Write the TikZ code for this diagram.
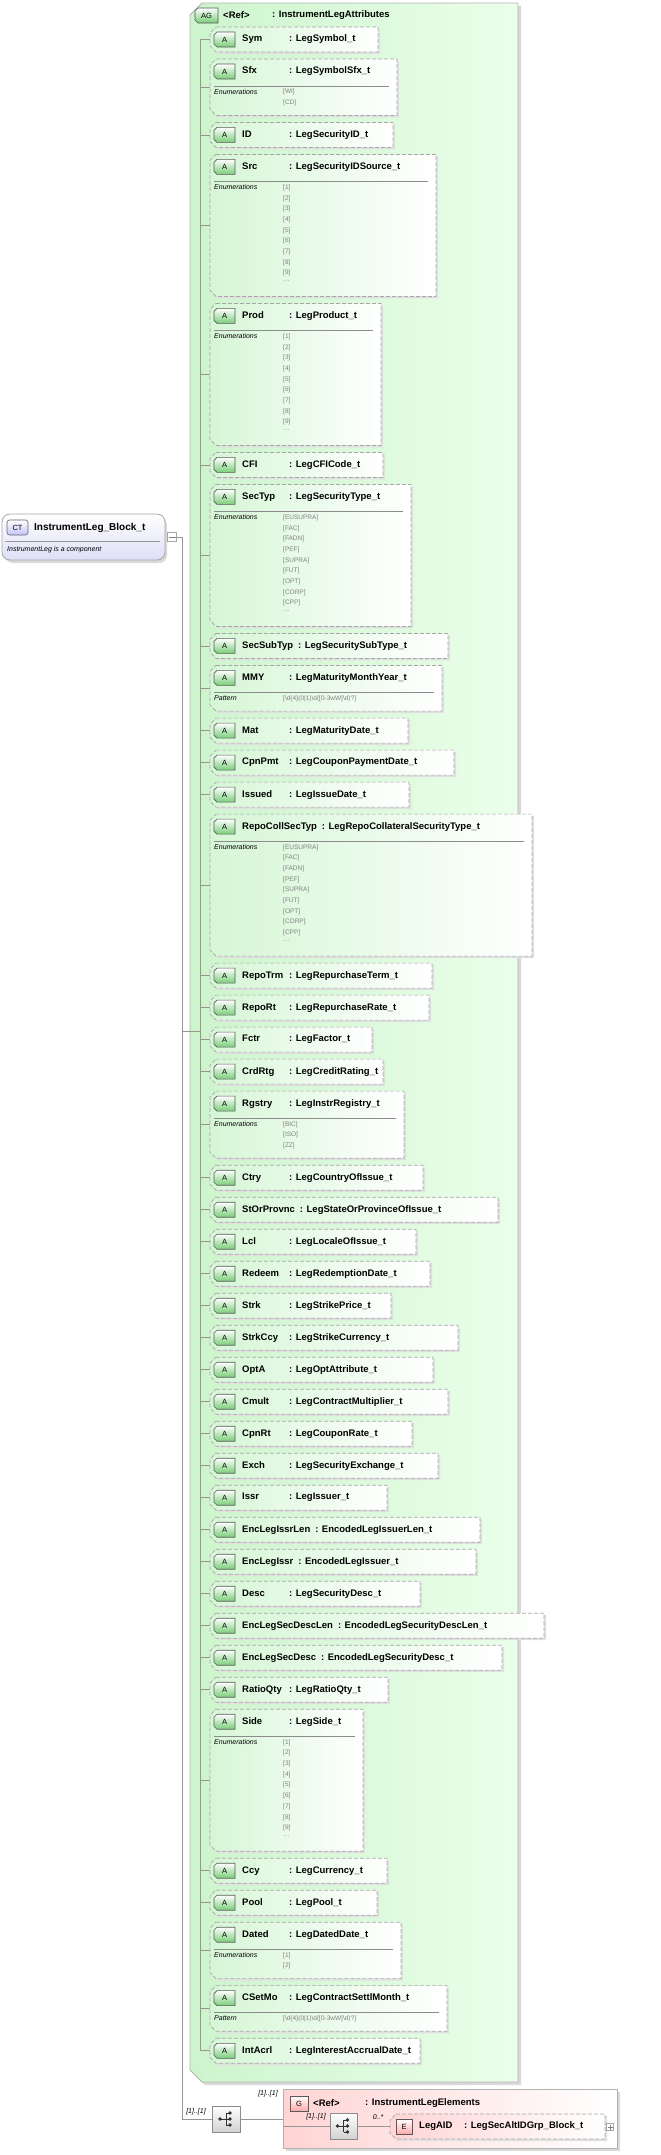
\documentclass[tikz,border=0pt]{standalone}
\usepackage{fontspec}
\setmainfont{Liberation Sans}
\definecolor{attrgreen}{RGB}{214,246,214}
\definecolor{aggreen}{RGB}{205,244,205}
\definecolor{badgetop}{RGB}{235,252,235}
\definecolor{badgebot}{RGB}{120,205,120}
\definecolor{gpink}{RGB}{255,212,212}
\definecolor{ctlav}{RGB}{222,222,248}
\definecolor{linegray}{RGB}{150,150,150}
\tikzset{
  conn/.style={draw=linegray,line width=0.8pt},
  enumv/.style={anchor=north west,inner sep=0pt,text=black!50,font=\fontsize{6.5}{7}\selectfont},
  enuml/.style={anchor=north west,inner sep=0pt,font=\itshape\fontsize{7}{7}\selectfont},
  mult/.style={inner sep=0pt,font=\itshape\fontsize{7}{7}\selectfont},
  hdr/.style={anchor=west,inner sep=0pt,font=\bfseries\fontsize{9.5}{10}\selectfont},
}
\newcommand\cy{27}
\newcommand\namecol[2]{\setbox0\hbox{\bfseries #1}\ifdim\wd0<47pt\hbox to 47pt{\box0\hfil}\else\box0\hspace{5pt}\fi\textbf{: #2}}
\newcommand\boxpath[4]{(#1+6,#2) -- (#3,#2) -- (#3,#4) -- (#1+6,#4) -- (#1,#4-6) -- (#1,#2+6) -- cycle}
\newcommand\abox[5]{%
  \fill[black!12] \boxpath{#1+2}{#2+2}{#3+2}{#4+2};
  \shade[left color=#5,right color=white] \boxpath{#1}{#2}{#3}{#4};
  \draw[black!35,dash pattern=on 4pt off 2pt,line width=0.7pt] \boxpath{#1}{#2}{#3}{#4};}
\newcommand\badge[5]{% x0,y0,x1,text,colour
  \shade[top color=white,bottom color=#5,draw=black!65,line width=0.6pt]
    (#1+3,#2) -- (#3,#2) -- (#3,#2+15) -- (#1+3,#2+15) -- (#1,#2+12) -- (#1,#2+3) -- cycle;
  \node[inner sep=0pt,font=\fontsize{7.5}{8}\selectfont] at ({(#1+#3)/2},#2+7.5) {#4};}
\newcommand\header[3]{%
  \badge{214}{#3+5}{235}{A}{badgebot}
  \node[hdr] at (242,#3+12.5) {\namecol{#1}{#2}};}
\newcommand\attrS[3]{%
  \pgfmathsetmacro\yt{\cy}\pgfmathsetmacro\yb{\cy+25}%
  \abox{210}{\yt}{#3}{\yb}{attrgreen}
  \header{#1}{#2}{\yt}
  \coordinate (#1-in) at (210,\yt+12.5);
  \coordinate (#1-v) at (200,\yt+12.5);
  \draw[conn] (#1-v) -- (#1-in);
  \pgfmathsetmacro\ny{\cy+32}\xdef\cy{\ny}}
\newcommand\attrE[6]{% name,type,right,label,nlines,list macro
  \pgfmathsetmacro\yt{\cy}\pgfmathsetmacro\yb{\cy+35+#5*10.7}%
  \pgfmathsetmacro\ym{(\yt+\yb)/2}%
  \abox{210}{\yt}{#3}{\yb}{attrgreen}
  \header{#1}{#2}{\yt}
  \draw[black!45,line width=0.7pt] (214,\yt+27) -- (#3-8,\yt+27);
  \node[enuml] at (214,\yt+30) {#4};
  \foreach \v [count=\i] in #6 {\node[enumv] at (283,\yt+30+\i*10.7-10.7) {\v};}
  \coordinate (#1-in) at (210,\ym);
  \coordinate (#1-v) at (200,\ym);
  \draw[conn] (#1-v) -- (#1-in);
  \pgfmathsetmacro\ny{\yb+7}\xdef\cy{\ny}}
\newcommand\numlist{[1],[2],[3],[4],[5],[6],[7],[8],[9],\dots}
\newcommand\sectlist{[EUSUPRA],[FAC],[FADN],[PEF],[SUPRA],[FUT],[OPT],[CORP],[CPP],\dots}
\newcommand\sfxlist{[WI],[CD]}
\newcommand\rglist{[BIC],[ISO],[ZZ]}
\newcommand\datedlist{[1],[2]}
\newcommand\pattlist{{[\textbackslash d\{4\}(0|1)\textbackslash d([0-3wW]\textbackslash d)?]}}
\newcommand\seqicon[5]{% name,x0,y0,x1,y1
  \node[draw=black!45,line width=0.6pt,top color=white,bottom color=black!18,minimum width={#4-#2},minimum height={#5-#3},inner sep=0pt] (#1) at ({(#2+#4)/2},{(#3+#5)/2}) {};
  \begin{scope}[shift={(#1.center)}]
    \fill[black!80] (-6,0) circle (1.8);
    \draw[black!80,line width=0.8pt] (-6,0) -- (0,0) (0,-6) -- (0,6) (0,-6) -- (4,-6) (0,6) -- (4,6) (0,0) -- (4,0);
    \fill[black!80] (4,-6) circle (1.8) (4,0) circle (1.8) (4,6) circle (1.8);
  \end{scope}}
\begin{document}
\begin{tikzpicture}[x=1pt,y=-1pt]
\useasboundingbox (0,0) rectangle (661,2155);
% AG group box
\fill[black!15] (193+12,6) -- (521,6) -- (521,2085) -- (193+12,2085) -- (193,2073) -- (193,18) -- cycle;
\shade[left color=aggreen,right color=white!92!green,draw=black!30,line width=0.8pt]
  (190+12,3) -- (518,3) -- (518,2082) -- (190+12,2082) -- (190,2070) -- (190,15) -- cycle;
\coordinate (AG-in) at (190,1031);
\badge{195}{8}{218}{AG}{badgebot}
\node[hdr] (AGref) at (223,15.5) {<Ref>};
\node[hdr] (AGtype) at (272,15.5) {: InstrumentLegAttributes};
% attributes
\attrS{Sym}{LegSymbol\_t}{378}
\attrE{Sfx}{LegSymbolSfx\_t}{397}{Enumerations}{2}{\sfxlist}
\attrS{ID}{LegSecurityID\_t}{393}
\attrE{Src}{LegSecurityIDSource\_t}{436}{Enumerations}{10}{\numlist}
\attrE{Prod}{LegProduct\_t}{381}{Enumerations}{10}{\numlist}
\attrS{CFI}{LegCFICode\_t}{383}
\attrE{SecTyp}{LegSecurityType\_t}{411}{Enumerations}{10}{\sectlist}
\attrS{SecSubTyp}{LegSecuritySubType\_t}{448}
\attrE{MMY}{LegMaturityMonthYear\_t}{442}{Pattern}{1}{\pattlist}
\attrS{Mat}{LegMaturityDate\_t}{408}
\attrS{CpnPmt}{LegCouponPaymentDate\_t}{454}
\attrS{Issued}{LegIssueDate\_t}{409}
\attrE{RepoCollSecTyp}{LegRepoCollateralSecurityType\_t}{532}{Enumerations}{10}{\sectlist}
\attrS{RepoTrm}{LegRepurchaseTerm\_t}{432}
\attrS{RepoRt}{LegRepurchaseRate\_t}{429}
\attrS{Fctr}{LegFactor\_t}{372}
\attrS{CrdRtg}{LegCreditRating\_t}{383}
\attrE{Rgstry}{LegInstrRegistry\_t}{404}{Enumerations}{3}{\rglist}
\attrS{Ctry}{LegCountryOfIssue\_t}{423}
\attrS{StOrProvnc}{LegStateOrProvinceOfIssue\_t}{498}
\attrS{Lcl}{LegLocaleOfIssue\_t}{416}
\attrS{Redeem}{LegRedemptionDate\_t}{430}
\attrS{Strk}{LegStrikePrice\_t}{391}
\attrS{StrkCcy}{LegStrikeCurrency\_t}{458}
\attrS{OptA}{LegOptAttribute\_t}{433}
\attrS{Cmult}{LegContractMultiplier\_t}{448}
\attrS{CpnRt}{LegCouponRate\_t}{412}
\attrS{Exch}{LegSecurityExchange\_t}{438}
\attrS{Issr}{LegIssuer\_t}{387}
\attrS{EncLegIssrLen}{EncodedLegIssuerLen\_t}{480}
\attrS{EncLegIssr}{EncodedLegIssuer\_t}{476}
\attrS{Desc}{LegSecurityDesc\_t}{420}
\attrS{EncLegSecDescLen}{EncodedLegSecurityDescLen\_t}{544}
\attrS{EncLegSecDesc}{EncodedLegSecurityDesc\_t}{502}
\attrS{RatioQty}{LegRatioQty\_t}{388}
\attrE{Side}{LegSide\_t}{363}{Enumerations}{10}{\numlist}
\attrS{Ccy}{LegCurrency\_t}{387}
\attrS{Pool}{LegPool\_t}{377}
\attrE{Dated}{LegDatedDate\_t}{401}{Enumerations}{2}{\datedlist}
\attrE{CSetMo}{LegContractSettlMonth\_t}{447}{Pattern}{1}{\pattlist}
\attrS{IntAcrl}{LegInterestAccrualDate\_t}{420}
\draw[conn] (Sym-v) -- (IntAcrl-v);
% CT box
\fill[black!15,rounded corners=8pt] (5,517) rectangle (167,563);
\shade[top color=white,bottom color=ctlav,draw=black!35,line width=0.8pt,rounded corners=8pt] (2,514) rectangle (165,560);
\node[draw=black!35,fill=white,inner sep=0pt,minimum size=9pt] (CTm) at (172,537) {};
\draw[black!50] (168.5,537) -- (175.5,537);
\shade[top color=white,bottom color=ctlav!70!blue!60,draw=black!60,rounded corners=2.5pt,line width=0.6pt] (7,520) rectangle (28,535);
\node[inner sep=0pt,font=\fontsize{7.5}{8}\selectfont] at (17.5,527.5) {CT};
\node[hdr,font=\bfseries\fontsize{10}{11}\selectfont] (CTt) at (34,527.5) {InstrumentLeg\_Block\_t};
\draw[black!40,line width=0.7pt] (5,541) -- (160,541);
\node[mult,anchor=west] (CTd) at (7,549.5) {InstrumentLeg is a component};
% main connectors
\coordinate (T1) at (182,537);
\coordinate (T2) at (182,2119);
\seqicon{S1}{212}{2106}{240}{2132}
\draw[conn] (CTm.east) -- (T1) -- (T2) -- (S1.west);
\draw[conn] (T1 |- AG-in) -- (200,1031);
\node[mult] at (196,2112) {[1]..[1]};
% G box
\fill[black!15] (286,2092) rectangle (620,2151);
\shade[left color=gpink,right color=white,draw=black!30,line width=0.8pt] (283,2089) rectangle (617,2148);
\coordinate (G-in) at (283,2119);
\draw[conn] (S1.east) -- (G-in);
\node[mult] at (268,2094) {[1]..[1]};
\shade[top color=white,bottom color=gpink!80!red,draw=black!65,line width=0.6pt] (290,2096) rectangle (308,2111);
\node[inner sep=0pt,font=\fontsize{7.5}{8}\selectfont] at (299,2103.5) {G};
\node[hdr] (Gref) at (313,2103.5) {<Ref>};
\node[hdr] (Gtype) at (365,2103.5) {: InstrumentLegElements};
\seqicon{S2}{330}{2113}{357}{2139}
\coordinate (G-l) at (283,2126);
\draw[conn] (G-l) -- (S2.west);
\node[mult] at (316,2117) {[1]..[1]};
\abox{390}{2114}{605}{2139}{gpink}
\coordinate (E-in) at (390,2126);
\draw[conn] (S2.east) -- (E-in);
\node[mult] at (378,2117) {0..*};
\shade[top color=white,bottom color=gpink!80!red,draw=black!65,line width=0.6pt] (396,2119) rectangle (412,2134);
\node[inner sep=0pt,font=\fontsize{7.5}{8}\selectfont] at (404,2126.5) {E};
\node[hdr] (Et) at (419,2126.5) {\setbox0\hbox{\bfseries LegAID}\hbox to 45pt{\box0\hfil}\textbf{: LegSecAltIDGrp\_Block\_t}};
\node[draw=black!35,fill=white,inner sep=0pt,minimum size=7pt] (Eplus) at (610,2127) {};
\draw[black!50] (607.5,2127) -- (612.5,2127) (610,2124.5) -- (610,2129.5);
\end{tikzpicture}
\end{document}
